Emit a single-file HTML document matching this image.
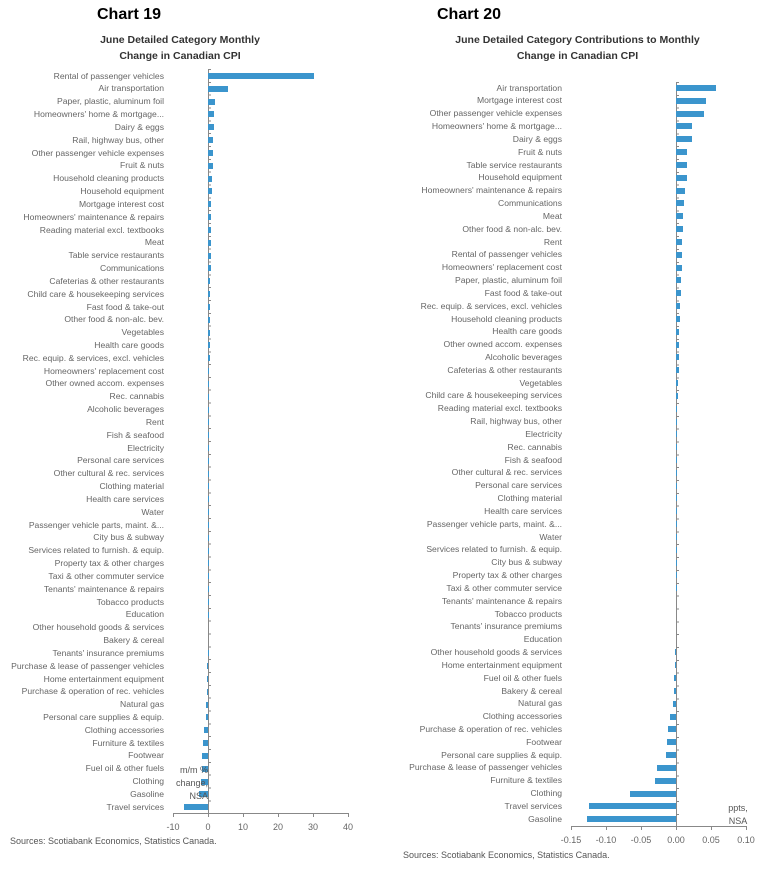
<!DOCTYPE html>
<html><head><meta charset="utf-8"><style>
*{margin:0;padding:0;box-sizing:border-box}
body{width:764px;height:870px;background:#fff;position:relative;overflow:hidden;font-family:"Liberation Sans",sans-serif;color:#555}
.t{position:absolute;font-weight:bold;color:#000;font-size:16px}
.st{position:absolute;font-weight:bold;color:#333;font-size:10.5px;text-align:center;line-height:16px}
.rows{position:absolute;left:0;width:764px}
.r{position:relative;height:12.83px}
.r span{position:absolute;top:0;text-align:right;font-size:8.6px;line-height:12.83px;white-space:nowrap;color:#666}
.r i{position:absolute;top:3.4px;height:6px;background:#3b95cd}
#c1 .r span{left:0;width:164px}
#c2 .r span{left:300px;width:262px}
.ax{position:absolute;background:#888}
.tk{position:absolute;font-size:9px;color:#666;width:40px;text-align:center}
.lbl{position:absolute;font-size:9px;color:#555;text-align:right;line-height:12.8px}
.src{position:absolute;font-size:9px;color:#555}
</style></head><body>
<div class="t" style="left:97px;top:6px">Chart 19</div>
<div class="st" style="left:80px;top:32px;width:200px">June Detailed Category Monthly<br>Change in Canadian CPI</div>
<div class="t" style="left:437px;top:6px">Chart 20</div>
<div class="st" style="left:420px;top:32px;width:315px">June Detailed Category Contributions to Monthly<br>Change in Canadian CPI</div>

<div class="ax" style="left:207.5px;top:69px;width:1px;height:745px"></div>
<div class="ax" style="left:208px;top:69px;width:3px;height:745px;background:repeating-linear-gradient(to bottom,#888 0,#888 1px,transparent 1px,transparent 12.83px)"></div>
<div id="c1" class="rows" style="top:69.6px">
<div class="r"><span>Rental of passenger vehicles</span><i style="left:208px;width:106px"></i></div>
<div class="r"><span>Air transportation</span><i style="left:208px;width:20px"></i></div>
<div class="r"><span>Paper, plastic, aluminum foil</span><i style="left:208px;width:7px"></i></div>
<div class="r"><span>Homeowners' home &amp; mortgage...</span><i style="left:208px;width:6px"></i></div>
<div class="r"><span>Dairy &amp; eggs</span><i style="left:208px;width:6px"></i></div>
<div class="r"><span>Rail, highway bus, other</span><i style="left:208px;width:5px"></i></div>
<div class="r"><span>Other passenger vehicle expenses</span><i style="left:208px;width:5px"></i></div>
<div class="r"><span>Fruit &amp; nuts</span><i style="left:208px;width:5px"></i></div>
<div class="r"><span>Household cleaning products</span><i style="left:208px;width:4px"></i></div>
<div class="r"><span>Household equipment</span><i style="left:208px;width:3.5px"></i></div>
<div class="r"><span>Mortgage interest cost</span><i style="left:208px;width:3px"></i></div>
<div class="r"><span>Homeowners' maintenance &amp; repairs</span><i style="left:208px;width:3px"></i></div>
<div class="r"><span>Reading material excl. textbooks</span><i style="left:208px;width:3px"></i></div>
<div class="r"><span>Meat</span><i style="left:208px;width:2.5px"></i></div>
<div class="r"><span>Table service restaurants</span><i style="left:208px;width:2.5px"></i></div>
<div class="r"><span>Communications</span><i style="left:208px;width:2.5px"></i></div>
<div class="r"><span>Cafeterias &amp; other restaurants</span><i style="left:208px;width:2px"></i></div>
<div class="r"><span>Child care &amp; housekeeping services</span><i style="left:208px;width:2px"></i></div>
<div class="r"><span>Fast food &amp; take-out</span><i style="left:208px;width:2px"></i></div>
<div class="r"><span>Other food &amp; non-alc. bev.</span><i style="left:208px;width:1.5px"></i></div>
<div class="r"><span>Vegetables</span><i style="left:208px;width:1.5px"></i></div>
<div class="r"><span>Health care goods</span><i style="left:208px;width:1.5px"></i></div>
<div class="r"><span>Rec. equip. &amp; services, excl. vehicles</span><i style="left:208px;width:1.5px"></i></div>
<div class="r"><span>Homeowners' replacement cost</span><i style="left:208px;width:1px"></i></div>
<div class="r"><span>Other owned accom. expenses</span><i style="left:208px;width:1px"></i></div>
<div class="r"><span>Rec. cannabis</span><i style="left:208px;width:1px"></i></div>
<div class="r"><span>Alcoholic beverages</span><i style="left:208px;width:1px"></i></div>
<div class="r"><span>Rent</span><i style="left:208px;width:1px"></i></div>
<div class="r"><span>Fish &amp; seafood</span><i style="left:208px;width:1px"></i></div>
<div class="r"><span>Electricity</span><i style="left:208px;width:1px"></i></div>
<div class="r"><span>Personal care services</span><i style="left:208px;width:1px"></i></div>
<div class="r"><span>Other cultural &amp; rec. services</span><i style="left:208px;width:1px"></i></div>
<div class="r"><span>Clothing material</span><i style="left:208px;width:0.5px"></i></div>
<div class="r"><span>Health care services</span><i style="left:208px;width:0.5px"></i></div>
<div class="r"><span>Water</span><i style="left:208px;width:0.5px"></i></div>
<div class="r"><span>Passenger vehicle parts, maint. &amp;...</span><i style="left:208px;width:0.5px"></i></div>
<div class="r"><span>City bus &amp; subway</span><i style="left:208px;width:0.3px"></i></div>
<div class="r"><span>Services related to furnish. &amp; equip.</span><i style="left:208px;width:0.3px"></i></div>
<div class="r"><span>Property tax &amp; other charges</span><i style="left:208px;width:0.3px"></i></div>
<div class="r"><span>Taxi &amp; other commuter service</span><i style="left:208px;width:0.3px"></i></div>
<div class="r"><span>Tenants' maintenance &amp; repairs</span><i style="left:208px;width:0.2px"></i></div>
<div class="r"><span>Tobacco products</span><i style="left:208px;width:0.2px"></i></div>
<div class="r"><span>Education</span><i style="left:208px;width:0.2px"></i></div>
<div class="r"><span>Other household goods &amp; services</span></div>
<div class="r"><span>Bakery &amp; cereal</span></div>
<div class="r"><span>Tenants' insurance premiums</span><i style="left:207.5px;width:0.5px"></i></div>
<div class="r"><span>Purchase &amp; lease of passenger vehicles</span><i style="left:207px;width:1px"></i></div>
<div class="r"><span>Home entertainment equipment</span><i style="left:207px;width:1px"></i></div>
<div class="r"><span>Purchase &amp; operation of rec. vehicles</span><i style="left:206.5px;width:1.5px"></i></div>
<div class="r"><span>Natural gas</span><i style="left:206px;width:2px"></i></div>
<div class="r"><span>Personal care supplies &amp; equip.</span><i style="left:205.5px;width:2.5px"></i></div>
<div class="r"><span>Clothing accessories</span><i style="left:204px;width:4px"></i></div>
<div class="r"><span>Furniture &amp; textiles</span><i style="left:203px;width:5px"></i></div>
<div class="r"><span>Footwear</span><i style="left:202px;width:6px"></i></div>
<div class="r"><span>Fuel oil &amp; other fuels</span><i style="left:202px;width:6px"></i></div>
<div class="r"><span>Clothing</span><i style="left:201px;width:7px"></i></div>
<div class="r"><span>Gasoline</span><i style="left:199px;width:9px"></i></div>
<div class="r"><span>Travel services</span><i style="left:184px;width:24px"></i></div>
</div>
<div class="lbl" style="left:160px;top:764px;width:48px">m/m %<br>change,<br>NSA</div>
<div class="ax" style="left:173px;top:813px;width:176px;height:1px"></div>
<div class="ax" style="left:173px;top:813px;width:1px;height:4px"></div>
<div class="ax" style="left:208px;top:813px;width:1px;height:4px"></div>
<div class="ax" style="left:243px;top:813px;width:1px;height:4px"></div>
<div class="ax" style="left:278px;top:813px;width:1px;height:4px"></div>
<div class="ax" style="left:313px;top:813px;width:1px;height:4px"></div>
<div class="ax" style="left:348px;top:813px;width:1px;height:4px"></div>
<div class="tk" style="left:153px;top:822px">-10</div>
<div class="tk" style="left:188px;top:822px">0</div>
<div class="tk" style="left:223px;top:822px">10</div>
<div class="tk" style="left:258px;top:822px">20</div>
<div class="tk" style="left:293px;top:822px">30</div>
<div class="tk" style="left:328px;top:822px">40</div>
<div class="src" style="left:10px;top:836px">Sources: Scotiabank Economics, Statistics Canada.</div>

<div class="ax" style="left:675.5px;top:82px;width:1px;height:744px"></div>
<div class="ax" style="left:676px;top:82px;width:3px;height:744px;background:repeating-linear-gradient(to bottom,#888 0,#888 1px,transparent 1px,transparent 12.84px)"></div>
<div id="c2" class="rows" style="top:81.6px">
<div class="r"><span>Air transportation</span><i style="left:676px;width:40px"></i></div>
<div class="r"><span>Mortgage interest cost</span><i style="left:676px;width:30px"></i></div>
<div class="r"><span>Other passenger vehicle expenses</span><i style="left:676px;width:28px"></i></div>
<div class="r"><span>Homeowners' home &amp; mortgage...</span><i style="left:676px;width:16px"></i></div>
<div class="r"><span>Dairy &amp; eggs</span><i style="left:676px;width:16px"></i></div>
<div class="r"><span>Fruit &amp; nuts</span><i style="left:676px;width:11px"></i></div>
<div class="r"><span>Table service restaurants</span><i style="left:676px;width:11px"></i></div>
<div class="r"><span>Household equipment</span><i style="left:676px;width:11px"></i></div>
<div class="r"><span>Homeowners' maintenance &amp; repairs</span><i style="left:676px;width:9px"></i></div>
<div class="r"><span>Communications</span><i style="left:676px;width:8px"></i></div>
<div class="r"><span>Meat</span><i style="left:676px;width:7px"></i></div>
<div class="r"><span>Other food &amp; non-alc. bev.</span><i style="left:676px;width:7px"></i></div>
<div class="r"><span>Rent</span><i style="left:676px;width:6px"></i></div>
<div class="r"><span>Rental of passenger vehicles</span><i style="left:676px;width:6px"></i></div>
<div class="r"><span>Homeowners' replacement cost</span><i style="left:676px;width:6px"></i></div>
<div class="r"><span>Paper, plastic, aluminum foil</span><i style="left:676px;width:5px"></i></div>
<div class="r"><span>Fast food &amp; take-out</span><i style="left:676px;width:5px"></i></div>
<div class="r"><span>Rec. equip. &amp; services, excl. vehicles</span><i style="left:676px;width:4px"></i></div>
<div class="r"><span>Household cleaning products</span><i style="left:676px;width:4px"></i></div>
<div class="r"><span>Health care goods</span><i style="left:676px;width:3px"></i></div>
<div class="r"><span>Other owned accom. expenses</span><i style="left:676px;width:3px"></i></div>
<div class="r"><span>Alcoholic beverages</span><i style="left:676px;width:2.5px"></i></div>
<div class="r"><span>Cafeterias &amp; other restaurants</span><i style="left:676px;width:2.5px"></i></div>
<div class="r"><span>Vegetables</span><i style="left:676px;width:2px"></i></div>
<div class="r"><span>Child care &amp; housekeeping services</span><i style="left:676px;width:1.5px"></i></div>
<div class="r"><span>Reading material excl. textbooks</span><i style="left:676px;width:1px"></i></div>
<div class="r"><span>Rail, highway bus, other</span><i style="left:676px;width:1px"></i></div>
<div class="r"><span>Electricity</span><i style="left:676px;width:0.8px"></i></div>
<div class="r"><span>Rec. cannabis</span><i style="left:676px;width:0.5px"></i></div>
<div class="r"><span>Fish &amp; seafood</span><i style="left:676px;width:0.5px"></i></div>
<div class="r"><span>Other cultural &amp; rec. services</span><i style="left:676px;width:0.5px"></i></div>
<div class="r"><span>Personal care services</span><i style="left:676px;width:0.5px"></i></div>
<div class="r"><span>Clothing material</span><i style="left:676px;width:0.3px"></i></div>
<div class="r"><span>Health care services</span><i style="left:676px;width:0.3px"></i></div>
<div class="r"><span>Passenger vehicle parts, maint. &amp;...</span><i style="left:676px;width:0.3px"></i></div>
<div class="r"><span>Water</span><i style="left:676px;width:0.3px"></i></div>
<div class="r"><span>Services related to furnish. &amp; equip.</span><i style="left:676px;width:0.2px"></i></div>
<div class="r"><span>City bus &amp; subway</span><i style="left:676px;width:0.2px"></i></div>
<div class="r"><span>Property tax &amp; other charges</span><i style="left:676px;width:0.2px"></i></div>
<div class="r"><span>Taxi &amp; other commuter service</span><i style="left:676px;width:0.2px"></i></div>
<div class="r"><span>Tenants' maintenance &amp; repairs</span></div>
<div class="r"><span>Tobacco products</span></div>
<div class="r"><span>Tenants' insurance premiums</span></div>
<div class="r"><span>Education</span></div>
<div class="r"><span>Other household goods &amp; services</span><i style="left:675px;width:1px"></i></div>
<div class="r"><span>Home entertainment equipment</span><i style="left:675px;width:1px"></i></div>
<div class="r"><span>Fuel oil &amp; other fuels</span><i style="left:674px;width:2px"></i></div>
<div class="r"><span>Bakery &amp; cereal</span><i style="left:674px;width:2px"></i></div>
<div class="r"><span>Natural gas</span><i style="left:673px;width:3px"></i></div>
<div class="r"><span>Clothing accessories</span><i style="left:670px;width:6px"></i></div>
<div class="r"><span>Purchase &amp; operation of rec. vehicles</span><i style="left:668px;width:8px"></i></div>
<div class="r"><span>Footwear</span><i style="left:667px;width:9px"></i></div>
<div class="r"><span>Personal care supplies &amp; equip.</span><i style="left:666px;width:10px"></i></div>
<div class="r"><span>Purchase &amp; lease of passenger vehicles</span><i style="left:657px;width:19px"></i></div>
<div class="r"><span>Furniture &amp; textiles</span><i style="left:655px;width:21px"></i></div>
<div class="r"><span>Clothing</span><i style="left:630px;width:46px"></i></div>
<div class="r"><span>Travel services</span><i style="left:589px;width:87px"></i></div>
<div class="r"><span>Gasoline</span><i style="left:587px;width:89px"></i></div>
</div>
<div class="lbl" style="left:722px;top:802px;width:32px;text-align:center">ppts,<br>NSA</div>
<div class="ax" style="left:571px;top:826px;width:176px;height:1px"></div>
<div class="ax" style="left:571px;top:826px;width:1px;height:4px"></div>
<div class="ax" style="left:606px;top:826px;width:1px;height:4px"></div>
<div class="ax" style="left:641px;top:826px;width:1px;height:4px"></div>
<div class="ax" style="left:676px;top:826px;width:1px;height:4px"></div>
<div class="ax" style="left:711px;top:826px;width:1px;height:4px"></div>
<div class="ax" style="left:746px;top:826px;width:1px;height:4px"></div>
<div class="tk" style="left:551px;top:835px">-0.15</div>
<div class="tk" style="left:586px;top:835px">-0.10</div>
<div class="tk" style="left:621px;top:835px">-0.05</div>
<div class="tk" style="left:656px;top:835px">0.00</div>
<div class="tk" style="left:691px;top:835px">0.05</div>
<div class="tk" style="left:726px;top:835px">0.10</div>
<div class="src" style="left:403px;top:850px">Sources: Scotiabank Economics, Statistics Canada.</div>
</body></html>
